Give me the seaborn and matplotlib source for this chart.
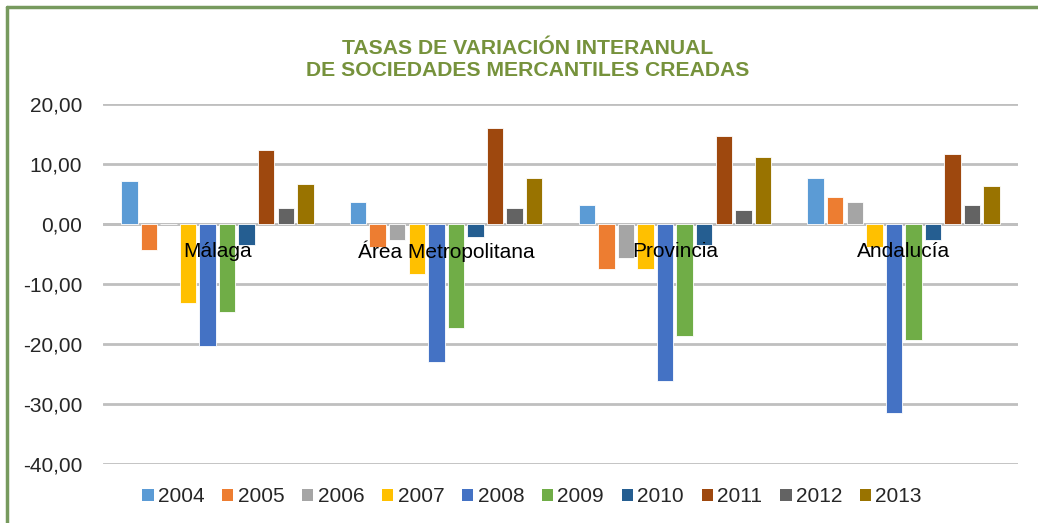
import matplotlib
matplotlib.use("Agg")
import matplotlib.pyplot as plt
import seaborn as sns
import pandas as pd
from matplotlib.patches import Patch
from matplotlib.lines import Line2D

regions = ["Málaga", "Área Metropolitana", "Provincia", "Andalucía"]
years = ["2004", "2005", "2006", "2007", "2008", "2009", "2010", "2011", "2012", "2013"]
malaga = [7.2, -4.3, 0.0, -13.2, -20.4, -14.6, -3.5, 12.4, 2.7, 6.7]
area_metro = [3.6, -3.9, -2.6, -8.4, -23.0, -17.3, -2.1, 16.0, 2.7, 7.6]
provincia = [3.2, -7.5, -5.7, -7.5, -26.2, -18.6, -3.5, 14.7, 2.3, 11.2]
andalucia = [7.6, 4.5, 3.6, -3.9, -31.5, -19.4, -2.6, 11.6, 3.2, 6.3]
colors = ["#5B9BD5", "#ED7D31", "#A5A5A5", "#FFC000", "#4472C4",
          "#70AD47", "#255E91", "#9E480E", "#636363", "#997300"]
yticks = [20, 10, 0, -10, -20, -30, -40]
title = "TASAS DE VARIACIÓN INTERANUAL\nDE SOCIEDADES MERCANTILES CREADAS"

rows = []
for reg, vals in zip(regions, [malaga, area_metro, provincia, andalucia]):
    for y, v in zip(years, vals):
        rows.append({"region": reg, "year": y, "value": v})
df = pd.DataFrame(rows)

sns.set_theme(style="white")
plt.rcParams["font.family"] = ["Liberation Sans", "DejaVu Sans"]

fig = plt.figure(figsize=(10.38, 5.23), dpi=100)
ax = fig.add_axes([103 / 1038, 1 - 464 / 523, (1018 - 103) / 1038, (464 - 104) / 523])

sns.barplot(data=df, x="region", y="value", hue="year", palette=colors,
            order=regions, hue_order=years, width=0.855, gap=0.16, saturation=1,
            edgecolor="white", linewidth=0.6, ax=ax, legend=False)

ax.set_ylim(-40, 20)
ax.set_xlim(-0.5, 3.5)
ax.set_yticks(yticks)
ax.set_yticklabels([f"{t:.2f}".replace(".", ",") for t in yticks], fontsize=15)
ax.tick_params(axis="y", length=0, pad=15)
ax.set_xticks([])
ax.set_xlabel("")
ax.set_ylabel("")
for s in ax.spines.values():
    s.set_visible(False)
ax.set_axisbelow(True)
ax.grid(axis="y", color="#BFBFBF", linewidth=2)
ax.axhline(0, color="#BFBFBF", linewidth=2, zorder=0.5)

for i, reg in enumerate(regions):
    ax.text(i, -4.6, reg, ha="center", va="center", fontsize=15, color="black", zorder=5)

fig.text(528 / 1038, 1 - 59 / 523, title, ha="center", va="center", fontsize=15.2,
         fontweight="bold", color="#76923C", linespacing=1.2)

handles = [Patch(facecolor=c, edgecolor="none") for c in colors]
fig.legend(handles, years, loc="center", bbox_to_anchor=(532 / 1038, 1 - 497 / 523),
           ncol=10, frameon=False, handlelength=0.55, handleheight=0.55,
           handletextpad=0.2, columnspacing=0.85, prop={"size": 15})

# frame (left and top)
fig.add_artist(Line2D([7 / 1038, 7 / 1038], [0, 1 - 7 / 523], color="#779A5E",
                      linewidth=2.5, transform=fig.transFigure))
fig.add_artist(Line2D([7 / 1038, 1], [1 - 7 / 523, 1 - 7 / 523], color="#779A5E",
                      linewidth=2.5, transform=fig.transFigure))

fig.savefig("out.png", dpi=100)
